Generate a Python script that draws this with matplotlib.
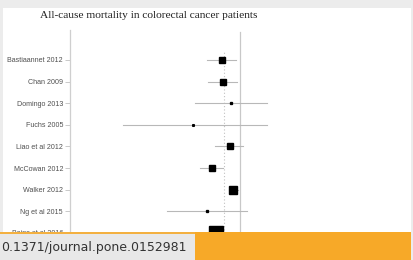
import matplotlib
matplotlib.use("Agg")
import matplotlib.pyplot as plt
from matplotlib.patches import Rectangle
import numpy as np

# Data (hazard ratios)
studies = ["Bastiaannet 2012", "Chan 2009", "Domingo 2013", "Fuchs 2005",
           "Liao et al 2012", "McCowan 2012", "Walker 2012", "Ng et al 2015",
           "Bains et al 2016"]
hr = [0.755, 0.774, 0.867, 0.486, 0.858, 0.648, 0.902, 0.605, 0.689]
ci_low = [0.60, 0.612, 0.50, 0.165, 0.681, 0.541, 0.845, 0.325, 0.62]
ci_high = [0.94, 0.95, 1.51, 1.51, 1.05, 0.77, 0.97, 1.12, 0.76]
weights = [4.3, 4.3, 1.4, 1.2, 4.3, 3.8, 6.3, 1.4, 10.5]
pooled = 0.782
title = "All-cause mortality in colorectal cancer patients"
doi = "0.1371/journal.pone.0152981"

W, H = 413, 260
fig = plt.figure(figsize=(W / 100, H / 100), dpi=100)
fig.patch.set_facecolor("#ececec")

def fx(px):
    return px / W

def fy(py):
    return 1 - py / H

# white panel
fig.patches.append(Rectangle((fx(3), 0), fx(411) - fx(3), fy(8), transform=fig.transFigure,
                             facecolor="white", edgecolor="none", zorder=-5))

# axes: x 70..411, y 30..260
ax = fig.add_axes([fx(70), 0, fx(411) - fx(70), fy(30)])
ax.set_facecolor("none")
ax.set_xscale("log")
dec = 150.0
ax.set_xlim(10 ** ((70 - 240) / dec), 10 ** ((411 - 240) / dec))
row = 21.625
ax.set_ylim(8 + (260 - 233) / row, -(60 - 30) / row)

y = np.arange(len(studies))
for i in range(len(studies)):
    ax.plot([ci_low[i], ci_high[i]], [y[i], y[i]], color="#b8b8b8", lw=0.8, zorder=2)
    ax.plot([hr[i]], [y[i]], marker="s", ms=weights[i], color="black", mec="black", zorder=3)

ax.axvline(1.0, color="#c8c8c8", lw=0.9, ymax=1 - 2 / 230, zorder=1)
ax.axvline(pooled, color="#c0c0c0", lw=0.8, ls=(0, (1, 2)), ymax=1 - 22 / 230, zorder=1)

for s in ["top", "right", "bottom"]:
    ax.spines[s].set_visible(False)
ax.spines["left"].set_color("#cfcfcf")
ax.spines["left"].set_linewidth(0.9)
ax.set_xticks([])
ax.minorticks_off()
ax.set_yticks(y)
ax.set_yticklabels(studies, fontsize=5.1, color="#505050", family="Liberation Sans")
ax.tick_params(axis="y", length=3.5, width=0.6, color="#c0c0c0", pad=1.5)
ax.tick_params(axis="x", which="both", length=0)

fig.text(fx(40), fy(15), title, fontsize=8.2, family="Liberation Serif", color="#222222",
         va="center", ha="left")

# overlay bar at bottom
fig.patches.append(Rectangle((0, 0), fx(195), fy(233), transform=fig.transFigure,
                             facecolor="#e8e8e8", edgecolor="none", zorder=10))
fig.patches.append(Rectangle((0, fy(234)), fx(195), fy(232) - fy(234), transform=fig.transFigure,
                             facecolor="#f3b040", edgecolor="none", zorder=10))
fig.patches.append(Rectangle((fx(195), 0), fx(411) - fx(195), fy(232), transform=fig.transFigure,
                             facecolor="#f7a928", edgecolor="none", zorder=10))
fig.text(fx(1), fy(247), doi, fontsize=9.0, family="DejaVu Sans", color="#333333",
         va="center", ha="left", zorder=11)

fig.savefig("out.png", dpi=100, facecolor=fig.get_facecolor())
